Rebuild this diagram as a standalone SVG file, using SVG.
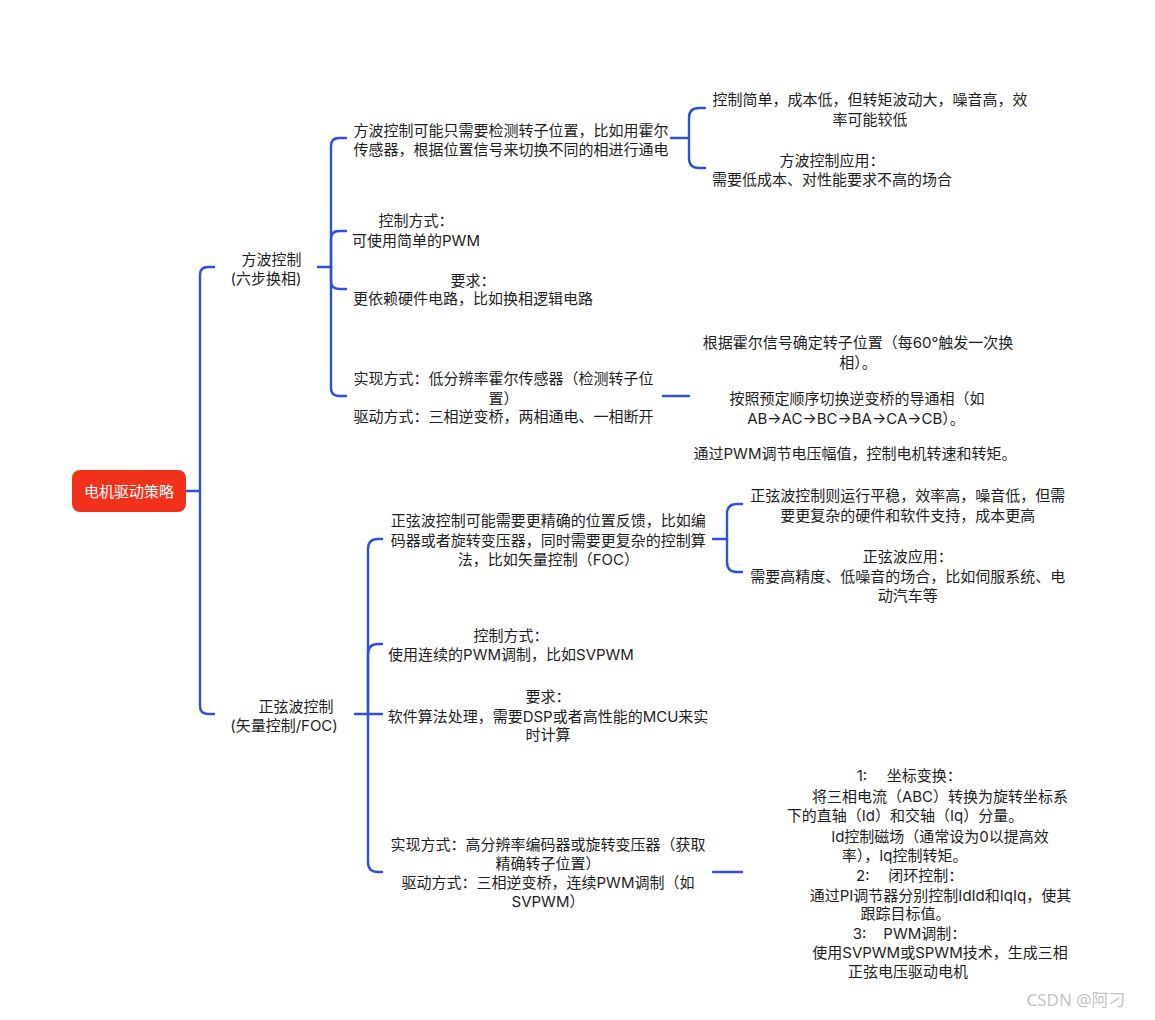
<svg xmlns="http://www.w3.org/2000/svg" width="1155" height="1020" viewBox="0 0 1155 1020">
<style>
.t{font-family:Inter,"Noto Sans CJK SC",sans-serif;font-size:15px;fill:#1e1e1e;text-anchor:middle}
.s{text-anchor:start}
.c{fill:none;stroke:#2f4fdc;stroke-width:2.4;stroke-linecap:round}
.root{fill:#f2311d}
.rt{font-family:Inter,"Noto Sans CJK SC",sans-serif;font-size:15px;fill:#ffffff;text-anchor:middle}
.wm{font-family:"Noto Sans","Noto Sans CJK SC",sans-serif;font-size:17px;fill:#c4c4c4;text-anchor:middle}
</style>
<rect width="1155" height="1020" fill="#ffffff"/>
<g id="connectors">
<path class="c" d="M186,491 H200"/>
<path class="c" d="M200,491 V275 Q200,267 208,267 H214"/>
<path class="c" d="M200,491 V706 Q200,714 208,714 H214"/>
<path class="c" d="M318,267 H331"/>
<path class="c" d="M331,267 V146 Q331,138 339,138 H346"/>
<path class="c" d="M331,267 V239 Q331,231 339,231 H346"/>
<path class="c" d="M331,267 V281 Q331,289 339,289 H346"/>
<path class="c" d="M331,267 V388 Q331,396 339,396 H346"/>
<path class="c" d="M671,138 H689"/>
<path class="c" d="M689,138 V118 Q689,108 699,108 H705"/>
<path class="c" d="M689,138 V158 Q689,168 699,168 H705"/>
<path class="c" d="M663,396 H689"/>
<path class="c" d="M355,714 H382"/>
<path class="c" d="M368,714 V549 Q368,539 378,539 H382"/>
<path class="c" d="M368,714 V654 Q368,644 378,644 H382"/>
<path class="c" d="M368,714 V862 Q368,872 378,872 H382"/>
<path class="c" d="M713,539 H727"/>
<path class="c" d="M727,539 V514 Q727,504 737,504 H742"/>
<path class="c" d="M727,539 V562 Q727,572 737,572 H742"/>
<path class="c" d="M713,872 H742"/>
</g>
<g id="root">
<rect class="root" x="72" y="470" width="114" height="42" rx="8"/>
<text class="rt" x="129" y="497">电机驱动策略</text>
</g>
<g id="b1">
<text class="t" x="271.5" y="264.5">方波控制</text>
<text class="t" x="266" y="284">(六步换相)</text>
</g>
<g id="b1a">
<text class="t" x="511" y="135.5">方波控制可能只需要检测转子位置，比如用霍尔</text>
<text class="t" x="511" y="155">传感器，根据位置信号来切换不同的相进行通电</text>
</g>
<g id="b1a1">
<text class="t" x="870" y="105">控制简单，成本低，但转矩波动大，噪音高，效</text>
<text class="t" x="870" y="125">率可能较低</text>
</g>
<g id="b1a2">
<text class="t" x="832" y="165.5">方波控制应用：</text>
<text class="t" x="832" y="185">需要低成本、对性能要求不高的场合</text>
</g>
<g id="b1b">
<text class="t" x="416" y="226">控制方式：</text>
<text class="t" x="416" y="245.5">可使用简单的PWM</text>
</g>
<g id="b1c">
<text class="t" x="473" y="285.5">要求：</text>
<text class="t" x="473" y="304">更依赖硬件电路，比如换相逻辑电路</text>
</g>
<g id="b1d">
<text class="t" x="503.5" y="384">实现方式：低分辨率霍尔传感器（检测转子位</text>
<text class="t" x="503.5" y="404">置）</text>
<text class="t" x="503.5" y="422">驱动方式：三相逆变桥，两相通电、一相断开</text>
</g>
<g id="b1d1">
<text class="t" x="858" y="348">根据霍尔信号确定转子位置（每60°触发一次换</text>
<text class="t" x="858" y="368">相）。</text>
<text class="t" x="857" y="404">按照预定顺序切换逆变桥的导通相（如</text>
<text class="t" x="856" y="424">AB→AC→BC→BA→CA→CB）。</text>
<text class="t" x="855" y="459">通过PWM调节电压幅值，控制电机转速和转矩。</text>
</g>
<g id="b2">
<text class="t" x="296" y="711.5">正弦波控制</text>
<text class="t" x="284" y="731">(矢量控制/FOC)</text>
</g>
<g id="b2a">
<text class="t" x="548.3" y="526">正弦波控制可能需要更精确的位置反馈，比如编</text>
<text class="t" x="548.3" y="545.5">码器或者旋转变压器，同时需要更复杂的控制算</text>
<text class="t" x="548.3" y="565">法，比如矢量控制（FOC）</text>
</g>
<g id="b2a1">
<text class="t" x="907.7" y="500.5">正弦波控制则运行平稳，效率高，噪音低，但需</text>
<text class="t" x="907.7" y="520.5">要更复杂的硬件和软件支持，成本更高</text>
</g>
<g id="b2a2">
<text class="t" x="907.7" y="561.5">正弦波应用：</text>
<text class="t" x="907.7" y="581.5">需要高精度、低噪音的场合，比如伺服系统、电</text>
<text class="t" x="907.7" y="600.5">动汽车等</text>
</g>
<g id="b2b">
<text class="t" x="511" y="640.5">控制方式：</text>
<text class="t" x="511" y="660">使用连续的PWM调制，比如SVPWM</text>
</g>
<g id="b2c">
<text class="t" x="548" y="701.5">要求：</text>
<text class="t" x="548" y="721.5">软件算法处理，需要DSP或者高性能的MCU来实</text>
<text class="t" x="548" y="739.5">时计算</text>
</g>
<g id="b2d">
<text class="t" x="548" y="849.5">实现方式：高分辨率编码器或旋转变压器（获取</text>
<text class="t" x="548" y="869">精确转子位置）</text>
<text class="t" x="548" y="888">驱动方式：三相逆变桥，连续PWM调制（如</text>
<text class="t" x="548" y="907">SVPWM）</text>
</g>
<g id="b2d1">
<text class="t s" x="856.7" y="780.5">1:</text>
<text class="t s" x="886.7" y="780.5">坐标变换：</text>
<text class="t" x="940" y="801.5">将三相电流（ABC）转换为旋转坐标系</text>
<text class="t" x="905" y="820.5">下的直轴（Id）和交轴（Iq）分量。</text>
<text class="t" x="940" y="841.5">Id控制磁场（通常设为0以提高效</text>
<text class="t" x="904.7" y="860.5">率），Iq控制转矩。</text>
<text class="t s" x="856" y="880.5">2:</text>
<text class="t s" x="888.3" y="880.5">闭环控制：</text>
<text class="t" x="940.5" y="900.5">通过PI调节器分别控制IdId和IqIq，使其</text>
<text class="t" x="905.5" y="918.5">跟踪目标值。</text>
<text class="t s" x="852.7" y="938.5">3:</text>
<text class="t s" x="883.3" y="938.5">PWM调制：</text>
<text class="t" x="940" y="957.5">使用SVPWM或SPWM技术，生成三相</text>
<text class="t" x="908" y="976.5">正弦电压驱动电机</text>
</g>
<text class="wm" x="1076" y="1006">CSDN @阿刁</text>
</svg>
